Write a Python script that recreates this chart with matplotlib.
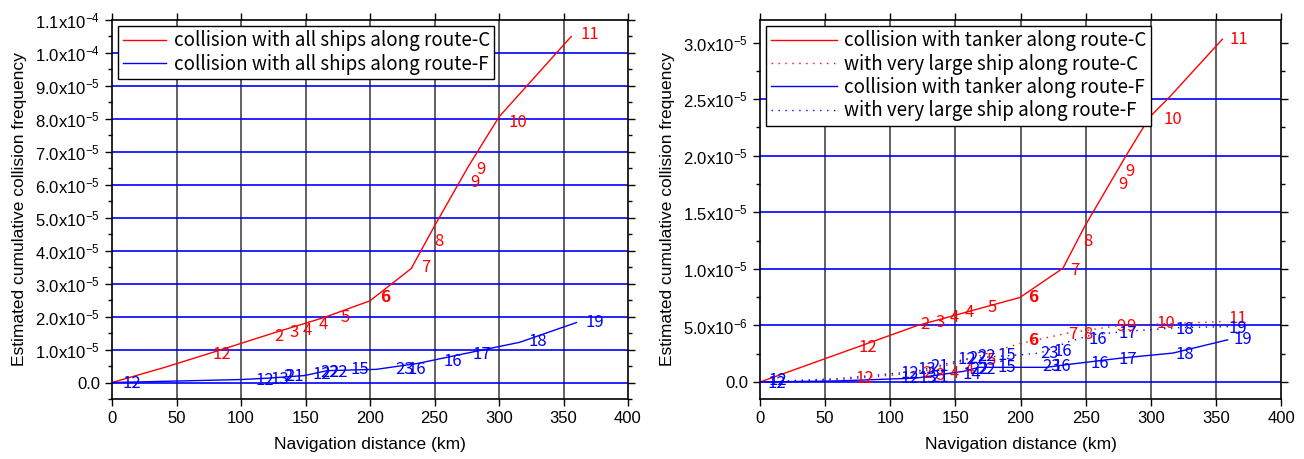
import numpy as np
import matplotlib
matplotlib.use('Agg')
import matplotlib.pyplot as plt
from matplotlib.ticker import MultipleLocator, FuncFormatter

plt.rcParams['font.family'] = ['Liberation Sans', 'DejaVu Sans']
plt.rcParams['mathtext.default'] = 'regular'

GOTHIC = ['Noto Sans CJK JP', 'DejaVu Sans']
E5 = 1e-5

# ---------------- left panel: all ships ----------------
c_all_km = [0, 40, 85, 125, 165, 200, 232, 250, 276, 300, 356]
c_all_val = [0, 0.45, 1.0, 1.5, 1.98, 2.48, 3.46, 4.75, 6.54, 8.06, 10.5]
c_all_lab_km = [85, 129.5, 141, 151, 163.6, 180.6, 211.6, 212.2, 243.4, 253.5, 281.4, 286, 314.7, 370.5]
c_all_lab_val = [0.85, 1.39, 1.52, 1.58, 1.76, 1.97, 2.58, 2.58, 3.48, 4.27, 6.06, 6.45, 7.88, 10.55]
c_all_lab = ['12', '2', '3', '4', '4', '5', '6', '6', '7', '8', '9', '9', '10', '11']

f_all_km = [0, 100, 120, 149, 167, 205, 237, 280, 316, 360]
f_all_val = [0, 0.09, 0.13, 0.21, 0.36, 0.4, 0.58, 0.93, 1.22, 1.82]
f_all_lab_km = [15.7, 118.6, 130, 136.7, 141.9, 162.5, 169, 175.4, 192, 227, 236, 264, 287, 330, 374]
f_all_lab_val = [-0.03, 0.07, 0.09, 0.19, 0.17, 0.24, 0.29, 0.29, 0.39, 0.39, 0.39, 0.64, 0.85, 1.24, 1.82]
f_all_lab = ['12', '12', '13', '2', '21', '12', '22', '22', '15', '23', '16', '16', '17', '18', '19']

# ---------------- right panel: tanker / very large ship ----------------
c_tank_km = [0, 121, 199.5, 232.6, 249, 281, 299, 314.5, 355]
c_tank_val = [0, 0.5, 0.747, 1.006, 1.37, 2.0, 2.34, 2.52, 3.03]
c_tank_lab_km = [82.8, 126.5, 138, 148.8, 161, 178, 209.4, 210, 241.6, 251.5, 278.4, 283.7, 316.7, 367.3]
c_tank_lab_val = [0.303, 0.506, 0.523, 0.567, 0.612, 0.656, 0.744, 0.744, 0.99, 1.238, 1.742, 1.857, 2.32, 3.03]
c_tank_lab = ['12', '2', '3', '4', '4', '5', '6', '6', '7', '8', '9', '9', '10', '11']

c_vl_km = [0, 60, 120, 151, 199.5, 235, 276, 357]
c_vl_val = [0, 0.02, 0.08, 0.17, 0.34, 0.43, 0.5, 0.535]
c_vl_lab_km = [80.5, 127.8, 138.6, 149.5, 161, 177.7, 209.4, 210, 240, 251.5, 276.8, 284.5, 311.9, 366.6]
c_vl_lab_val = [0.03, 0.073, 0.058, 0.079, 0.115, 0.188, 0.365, 0.365, 0.418, 0.418, 0.488, 0.488, 0.52, 0.56]
c_vl_lab = ['12', '2', '3', '4', '4', '5', '6', '6', '7', '8', '9', '9', '10', '11']

f_tank_km = [0, 60, 120, 156, 168, 220, 235, 276, 317, 359]
f_tank_val = [0, 0.01, 0.035, 0.094, 0.13, 0.13, 0.153, 0.21, 0.256, 0.373]
f_tank_lab_km = [12.8, 115, 129, 138, 162.3, 168.7, 173.9, 189.2, 223.7, 231.4, 260.7, 282.4, 325.9, 370.6]
f_tank_lab_val = [-0.01, 0.028, 0.028, 0.037, 0.064, 0.109, 0.109, 0.132, 0.138, 0.138, 0.168, 0.197, 0.241, 0.373]
f_tank_lab = ['12', '12', '13', '21', '14', '22', '22', '15', '23', '16', '16', '17', '18', '19']

f_vl_km = [0, 60, 120, 146, 161, 199.5, 215, 238, 256, 284, 320, 360]
f_vl_val = [0, 0.03, 0.094, 0.17, 0.21, 0.24, 0.256, 0.36, 0.42, 0.45, 0.48, 0.49]
f_vl_lab_km = [13.8, 115, 127.8, 138, 158.5, 167.4, 174, 189.2, 222.4, 232.6, 259.4, 282.4, 325.9, 366.8]
f_vl_lab_val = [0.011, 0.079, 0.109, 0.138, 0.197, 0.212, 0.226, 0.232, 0.256, 0.27, 0.373, 0.432, 0.462, 0.477]
f_vl_lab = ['12', '12', '13', '21', '12', '22', '22', '15', '23', '16', '16', '17', '18', '19']


def sci_fmt(v, pos):
    if abs(v) < 1e-12:
        return '0.0'
    e = int(np.floor(np.log10(abs(v)) + 1e-9))
    m = v / 10 ** e
    return f'{m:.1f}x10$^{{{e}}}$'


def style_axes(ax, ymin, ymax, ymajor, yminor):
    ax.set_xlim(0, 400)
    ax.set_ylim(ymin, ymax)
    ax.xaxis.set_major_locator(MultipleLocator(50))
    ax.yaxis.set_major_locator(MultipleLocator(ymajor))
    ax.yaxis.set_minor_locator(MultipleLocator(yminor))
    ax.yaxis.set_major_formatter(FuncFormatter(sci_fmt))
    ax.tick_params(which='both', direction='out', top=True, right=True, labelsize=12)
    ax.tick_params(which='major', length=5, width=1)
    ax.tick_params(which='minor', length=3, width=1)
    for x in np.arange(50, 400, 50):
        ax.axvline(x, color='#555555', lw=1.3, zorder=0.5)
    for y in np.arange(0, ymax - ymajor * 0.5, ymajor):
        ax.axhline(y, color='#0000ff', lw=1.2, zorder=0.5)
    for s in ax.spines.values():
        s.set_linewidth(1.2)
    ax.set_xlabel('Navigation distance (km)', fontsize=12.5, labelpad=8)
    ax.set_ylabel('Estimated cumulative collision frequency', fontsize=12.5, labelpad=6)


def put_labels(ax, kms, vals, texts, color):
    for k, v, t in zip(kms, vals, texts):
        ax.text(k, v * E5, t, color=color, fontsize=12, family=GOTHIC,
                ha='center', va='center', zorder=3)


def add_legend(ax, hl):
    leg = ax.legend(loc='upper left', bbox_to_anchor=(0.012, 0.985), borderaxespad=0,
                    prop={'family': GOTHIC, 'size': 13.5}, fancybox=False, framealpha=1,
                    edgecolor='black', handlelength=hl, handletextpad=0.4,
                    labelspacing=0.12, borderpad=0.25)
    leg.get_frame().set_linewidth(1)
    leg.set_zorder(5)


fig = plt.figure(figsize=(13.04, 4.59), dpi=100)
ax1 = fig.add_axes([112 / 1304, 60 / 459, 516 / 1304, 379 / 459])
ax2 = fig.add_axes([760 / 1304, 60 / 459, 521 / 1304, 379 / 459])

# left
style_axes(ax1, -0.5e-5, 1.1e-4, 1e-5, 0.5e-5)
ax1.plot(c_all_km, np.array(c_all_val) * E5, color='#ff0000', lw=1,
         label='collision with all ships along route-C', zorder=2)
ax1.plot(f_all_km, np.array(f_all_val) * E5, color='#0000ff', lw=1,
         label='collision with all ships along route-F', zorder=2)
put_labels(ax1, c_all_lab_km, c_all_lab_val, c_all_lab, '#ff0000')
put_labels(ax1, f_all_lab_km, f_all_lab_val, f_all_lab, '#0000ff')
add_legend(ax1, 2.3)

# right
style_axes(ax2, -1.5e-6, 3.2e-5, 5e-6, 2.5e-6)
ax2.plot(c_tank_km, np.array(c_tank_val) * E5, color='#ff0000', lw=1,
         label='collision with tanker along route-C', zorder=2)
ax2.plot(c_vl_km, np.array(c_vl_val) * E5, color='#ff0000', lw=1, ls=(0, (1, 4)),
         label='with very large ship along route-C', zorder=2)
ax2.plot(f_tank_km, np.array(f_tank_val) * E5, color='#0000ff', lw=1,
         label='collision with tanker along route-F', zorder=2)
ax2.plot(f_vl_km, np.array(f_vl_val) * E5, color='#0000ff', lw=1, ls=(0, (1, 4)),
         label='with very large ship along route-F', zorder=2)
put_labels(ax2, c_tank_lab_km, c_tank_lab_val, c_tank_lab, '#ff0000')
put_labels(ax2, c_vl_lab_km, c_vl_lab_val, c_vl_lab, '#ff0000')
put_labels(ax2, f_tank_lab_km, f_tank_lab_val, f_tank_lab, '#0000ff')
put_labels(ax2, f_vl_lab_km, f_vl_lab_val, f_vl_lab, '#0000ff')
add_legend(ax2, 3.5)

fig.savefig('out.png', dpi=100)
